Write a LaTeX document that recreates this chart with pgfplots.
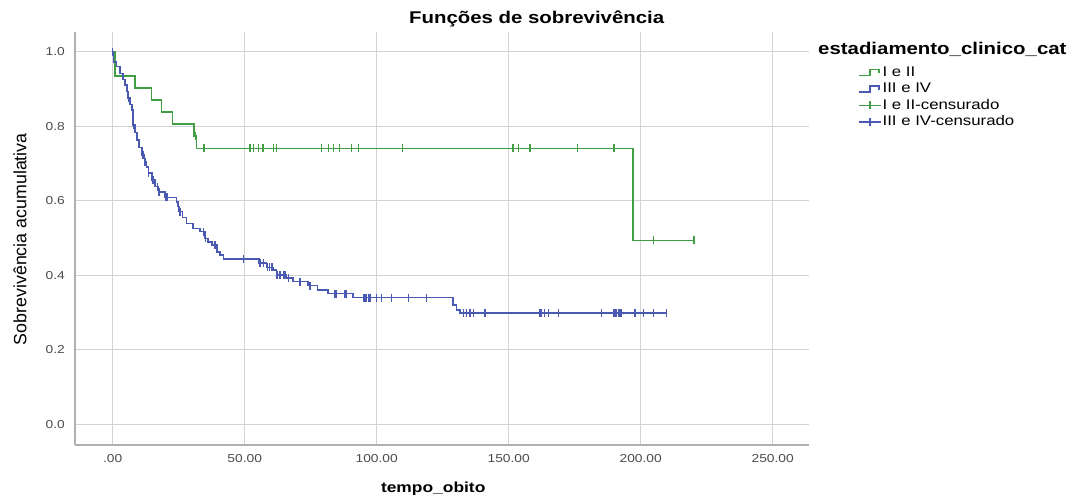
\documentclass[border=0pt]{standalone}
\usepackage{fontspec}
\setmainfont[FakeStretch=1.2]{Liberation Sans}
\newfontfamily\ylabfont{Liberation Sans}
\usepackage{pgfplots}
\pgfplotsset{compat=1.18}
\definecolor{kmgreen}{RGB}{66,158,66}
\definecolor{kmblue}{RGB}{74,90,178}
\definecolor{gridc}{RGB}{210,210,210}
\definecolor{axc}{RGB}{175,175,175}
\definecolor{tickc}{RGB}{75,75,75}
\pgfplotsset{
  steplegend/.style={legend image code/.code={\draw[##1] (0pt,-3pt) -- (11pt,-3pt) -- (11pt,3pt) -- (20pt,3pt) -- (20pt,-1pt);}},
  censlegend/.style={legend image code/.code={\draw[##1] (0pt,0pt) -- (22pt,0pt); \draw[##1] (11pt,-4pt) -- (11pt,4pt);}},
}

\pgfplotstableread{
t s
0 1.000
0.3 0.973
1.5 0.960
2.8 0.942
3.8 0.925
4.7 0.911
5.5 0.893
5.9 0.875
6.6 0.858
7.2 0.844
7.6 0.823
7.8 0.803
8.5 0.783
9.1 0.763
10.0 0.743
11.0 0.723
12.0 0.705
12.8 0.690
13.5 0.674
14.8 0.655
16.0 0.638
17.3 0.624
19.8 0.609
24.2 0.597
24.8 0.585
25.2 0.571
26.5 0.555
28.0 0.539
30.5 0.526
33.1 0.517
35.0 0.499
36.2 0.490
37.5 0.481
39.4 0.463
40.6 0.455
41.9 0.444
55.5 0.433
58.3 0.421
60.8 0.414
62.1 0.401
65.9 0.392
68.4 0.383
74.0 0.372
77.5 0.360
81.5 0.351
91.1 0.340
129.0 0.320
130.3 0.307
131.5 0.298
210.0 0.298
}\bluesteps

\pgfplotstableread{
t s
0 1.000
5.9 0.875
7.8 0.803
11.2 0.723
11.7 0.723
12.3 0.705
13.6 0.674
15.2 0.655
17.0 0.638
17.6 0.624
19.9 0.609
20.6 0.609
24.9 0.585
25.5 0.571
34.3 0.517
35.2 0.499
38.7 0.481
49.5 0.444
55.8 0.433
57.1 0.433
58.6 0.421
59.3 0.421
60.3 0.421
62.3 0.401
63.4 0.401
64.6 0.401
65.3 0.401
66.5 0.392
70.9 0.383
74.7 0.372
84.2 0.351
84.8 0.351
88.0 0.351
88.6 0.351
94.9 0.340
95.6 0.340
96.2 0.340
96.8 0.340
97.5 0.340
100.0 0.340
101.9 0.340
105.7 0.340
112.0 0.340
118.9 0.340
132.8 0.298
134.1 0.298
135.3 0.298
136.6 0.298
141.0 0.298
161.9 0.298
162.5 0.298
163.5 0.298
165.0 0.298
168.8 0.298
185.2 0.298
189.6 0.298
190.2 0.298
190.8 0.298
191.5 0.298
192.2 0.298
192.8 0.298
197.8 0.298
201.0 0.298
204.8 0.298
209.8 0.298
}\bluecens

\pgfplotstableread{
t s
0 1.0
0.9 0.9355
8.4 0.9032
14.7 0.8710
18.5 0.8387
22.7 0.8065
30.9 0.7742
31.8 0.7405
197.0 0.4937
220.2 0.4937
}\greensteps

\pgfplotstableread{
t s
31.3 0.7742
34.6 0.7405
52.0 0.7405
53.3 0.7405
55.2 0.7405
57.0 0.7405
60.8 0.7405
62.1 0.7405
79.2 0.7405
81.7 0.7405
83.6 0.7405
85.8 0.7405
90.5 0.7405
93.0 0.7405
109.8 0.7405
151.7 0.7405
153.6 0.7405
158.1 0.7405
176.0 0.7405
189.9 0.7405
204.8 0.4937
220.2 0.4937
}\greencens

\begin{document}
\begin{tikzpicture}[x=1pt,y=1pt]
\path[use as bounding box] (0,0) rectangle (1075,499);
\begin{axis}[
  at={(75pt,54pt)}, anchor=south west,
  scale only axis, width=734pt, height=413.3pt,
  xmin=-14.28, xmax=263.75, ymin=-0.0556, ymax=1.0537,
  axis lines*=left,
  axis line style={axc, line width=1.8pt},
  grid=major,
  major grid style={gridc, line width=1.2pt},
  major tick length=0pt,
  xtick={0,50,100,150,200,250},
  xticklabels={.00,50.00,100.00,150.00,200.00,250.00},
  ytick={0,0.2,0.4,0.6,0.8,1.0},
  yticklabels={0.0,0.2,0.4,0.6,0.8,1.0},
  tick label style={font=\fontsize{11.5}{13}\selectfont, text=tickc},
  xticklabel style={anchor=north, inner sep=0pt, yshift=-9pt},
  yticklabel style={anchor=east, inner sep=0pt, xshift=-10pt},
  title={Funções de sobrevivência},
  title style={at={(axis description cs:0.629,1.0203)}, anchor=base, inner sep=0pt, yshift=-6pt,
    font=\bfseries\fontsize{17}{20}\selectfont},
  xlabel={tempo\_obito},
  xlabel style={at={(axis description cs:0.488,-0.116)}, anchor=base, inner sep=0pt,
    font=\bfseries\fontsize{14.5}{17}\selectfont},
  ylabel={Sobrevivência acumulativa},
  ylabel style={at={(axis description cs:-0.0749,0.498)}, anchor=center, inner sep=0pt,
    font=\ylabfont\fontsize{17.8}{20}\selectfont},
  legend style={at={(axis description cs:1.0668,0.922)}, anchor=north west,
    draw=none, fill=none, inner sep=0pt, row sep=0pt,
    font=\fontsize{14}{16}\selectfont,
    nodes={inner sep=1pt, text height=11pt, text depth=3.5pt}},
  legend cell align=left,
]
\addlegendimage{kmgreen, line width=1.4pt, steplegend}
\addlegendentry{I e II}
\addlegendimage{kmblue, line width=1.4pt, steplegend}
\addlegendentry{III e IV}
\addlegendimage{kmgreen, line width=1.4pt, censlegend}
\addlegendentry{I e II-censurado}
\addlegendimage{kmblue, line width=1.4pt, censlegend}
\addlegendentry{III e IV-censurado}

\addplot[forget plot, kmgreen, line width=1.6pt, const plot] table[x=t,y=s] {\greensteps};
\addplot[forget plot, kmgreen, only marks, mark=|, mark size=4pt, mark options={line width=1.4pt}] table[x=t,y=s] {\greencens};
\addplot[forget plot, kmblue, line width=1.6pt, const plot] table[x=t,y=s] {\bluesteps};
\addplot[forget plot, kmblue, only marks, mark=|, mark size=4pt, mark options={line width=1.4pt}] table[x=t,y=s] {\bluecens};
\end{axis}
\node[anchor=base west, inner sep=0pt, font=\bfseries\fontsize{17}{20}\selectfont] at (818,444) {estadiamento\_clinico\_cat};
\end{tikzpicture}
\end{document}
